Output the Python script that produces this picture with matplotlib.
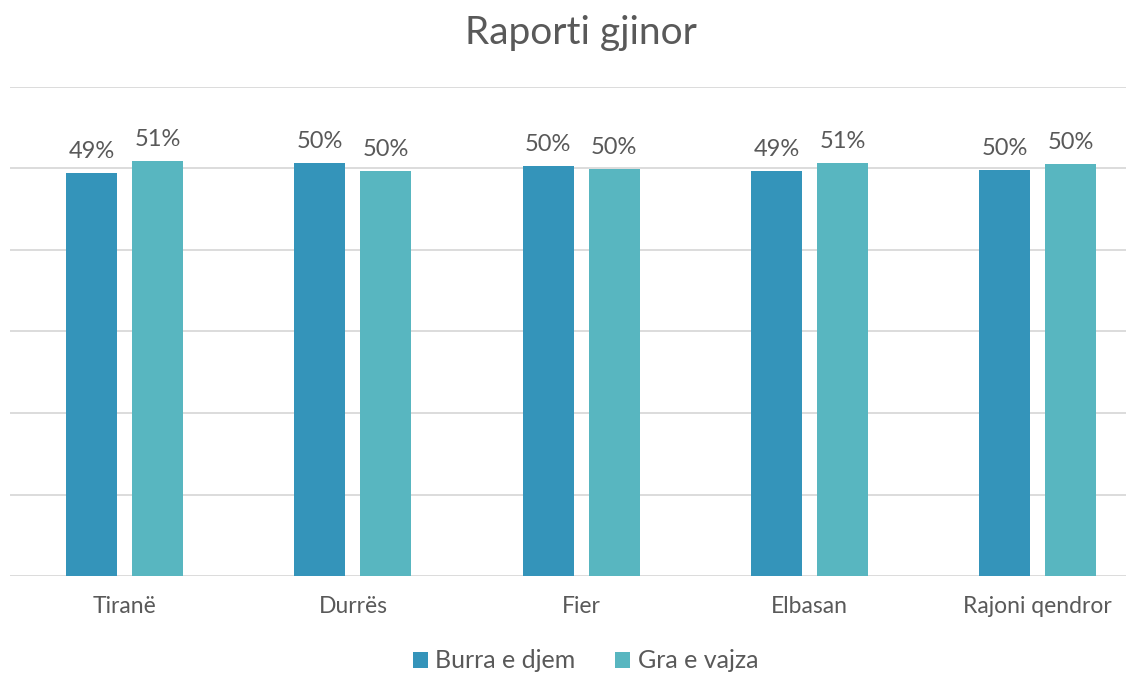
import matplotlib
matplotlib.use('Agg')
import matplotlib.pyplot as plt
import numpy as np

# Data
regions = ['Tiranë', 'Durrës', 'Fier', 'Elbasan', 'Rajoni qendror']
men = [0.494, 0.507, 0.503, 0.497, 0.498]
women = [0.509, 0.497, 0.499, 0.507, 0.505]
men_labels = ['49%', '50%', '50%', '49%', '50%']
women_labels = ['51%', '50%', '50%', '51%', '50%']

plt.rcParams['font.family'] = ['Lato', 'DejaVu Sans']
text_color = '#595959'

fig = plt.figure(figsize=(11.37, 6.73), dpi=100)
ax = fig.add_axes([0.009, 0.144, 0.981, 0.727])

x = np.arange(len(regions))
width = 0.223
off = 0.1445
b1 = ax.bar(x - off, men, width, color='#3494BA', label='Burra e djem', zorder=3)
b2 = ax.bar(x + off, women, width, color='#58B6C0', label='Gra e vajza', zorder=3)

for bars, labels in [(b1, men_labels), (b2, women_labels)]:
    for rect, lab in zip(bars, labels):
        ax.annotate(lab, (rect.get_x() + rect.get_width() / 2, rect.get_height()),
                    xytext=(0, 8), textcoords='offset points', ha='center', va='bottom',
                    fontsize=17, color=text_color)

ax.set_xlim(-0.501, 4.385)
ax.set_ylim(0, 0.6)
ax.set_yticks(np.arange(0, 0.61, 0.1))
ax.set_yticklabels([])
ax.tick_params(axis='y', length=0)
ax.tick_params(axis='x', length=0, pad=14, labelsize=16.5, labelcolor=text_color)
ax.set_xticks(x)
ax.set_xticklabels(regions)
ax.grid(axis='y', color='#D9D9D9', linewidth=1.3, zorder=0)
for s in ['top', 'right', 'left', 'bottom']:
    ax.spines[s].set_visible(False)

fig.suptitle('Raporti gjinor', x=0.511, y=0.977, fontsize=28, color=text_color)
fig.legend(handles=[b1, b2], loc='center', bbox_to_anchor=(0.515, 0.018), ncol=2,
           frameon=False, fontsize=18, labelcolor=text_color, handlelength=0.6,
           handleheight=0.6, handletextpad=0.3, columnspacing=1.6)

fig.savefig('out.png', dpi=100)
